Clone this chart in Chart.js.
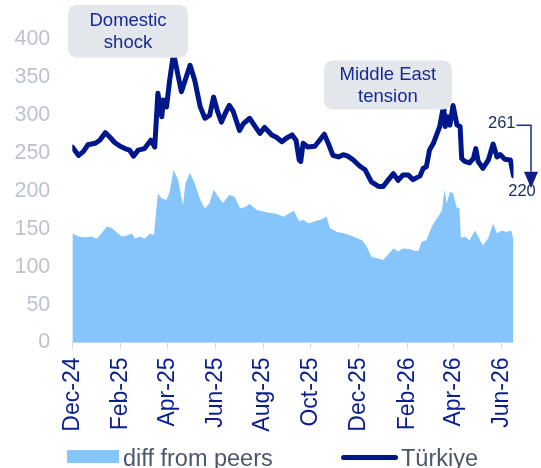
<!DOCTYPE html>
<html>
<head>
<meta charset="utf-8">
<title>Türkiye CDS</title>
<script src="https://cdn.jsdelivr.net/npm/chart.js@4.4.1/dist/chart.umd.min.js"></script>
<style>
    html, body { margin: 0; padding: 0; background: #fff; overflow: hidden; }
    #wrap { position: relative; width: 541px; height: 468px; }
    .leg { position: absolute; font-family: "Liberation Sans", Arial, Helvetica, sans-serif; font-size: 23.5px; line-height: 24px; color: #4c566d; white-space: nowrap; }
    .swatch { position: absolute; }
</style>
</head>
<body>
<div id="wrap">
    <canvas id="cds"></canvas>
    <div class="swatch" style="left:67px; top:450px; width:52px; height:13px; background:#86c5fb;"></div>
    <div class="leg" style="left:123px; top:446px;">diff from peers</div>
    <div class="swatch" style="left:341px; top:455px; width:57px; height:5px; border-radius:3px; background:#00178c;"></div>
    <div class="leg" style="left:401px; top:446px;">Türkiye</div>
</div>
<script>
// Data
const startDate = '2024-12-01';
const endDate = '2026-06-16';

const tickDates = ['2024-12-01', '2025-02-01', '2025-04-01', '2025-06-01', '2025-08-01',
    '2025-10-01', '2025-12-01', '2026-02-01', '2026-04-01', '2026-06-01'];
const tickLabels = ['Dec-24', 'Feb-25', 'Apr-25', 'Jun-25', 'Aug-25',
    'Oct-25', 'Dec-25', 'Feb-26', 'Apr-26', 'Jun-26'];

const lineDates = [
    '2024-12-01', '2024-12-09', '2024-12-15', '2024-12-21', '2024-12-30', '2025-01-05', '2025-01-12', '2025-01-18',
    '2025-01-24', '2025-01-31', '2025-02-06', '2025-02-12', '2025-02-17', '2025-02-23', '2025-03-03', '2025-03-11',
    '2025-03-16', '2025-03-20', '2025-03-25', '2025-03-27', '2025-03-31', '2025-04-04', '2025-04-09', '2025-04-15',
    '2025-04-19', '2025-04-30', '2025-05-06', '2025-05-13', '2025-05-19', '2025-05-25', '2025-05-30', '2025-06-04',
    '2025-06-09', '2025-06-14', '2025-06-19', '2025-06-24', '2025-07-02', '2025-07-07', '2025-07-15', '2025-07-22',
    '2025-07-28', '2025-08-03', '2025-08-12', '2025-08-18', '2025-08-25', '2025-08-31', '2025-09-07', '2025-09-12',
    '2025-09-16', '2025-09-18', '2025-09-21', '2025-09-27', '2025-10-06', '2025-10-12', '2025-10-18', '2025-10-23',
    '2025-10-29', '2025-11-05', '2025-11-11', '2025-11-17', '2025-11-24', '2025-12-02', '2025-12-09', '2025-12-17',
    '2025-12-26', '2026-01-01', '2026-01-07', '2026-01-14', '2026-01-20', '2026-01-26', '2026-02-02', '2026-02-08',
    '2026-02-17', '2026-02-21', '2026-02-25', '2026-03-01', '2026-03-06', '2026-03-10', '2026-03-14', '2026-03-19',
    '2026-03-21', '2026-03-24', '2026-03-27', '2026-03-31', '2026-04-05', '2026-04-09', '2026-04-11', '2026-04-15',
    '2026-04-21', '2026-04-26', '2026-04-29', '2026-05-02', '2026-05-08', '2026-05-15', '2026-05-21', '2026-05-26',
    '2026-05-30', '2026-06-05', '2026-06-12', '2026-06-16'
];
const turkiye = [
    258, 247, 252, 261, 263, 267, 277, 271,
    264, 259, 256, 254, 246, 254, 256, 267,
    258, 329, 298, 320, 311, 346, 382, 351,
    331, 366, 346, 311, 296, 300, 324, 305,
    291, 303, 313, 305, 280, 289, 296, 285,
    276, 284, 274, 271, 265, 270, 274, 267,
    241, 239, 263, 258, 259, 267, 275, 263,
    247, 245, 248, 246, 241, 233, 228, 212,
    206, 206, 214, 223, 214, 221, 221, 215,
    220, 230, 232, 254, 263, 274, 285, 313,
    285, 298, 287, 313, 287, 285, 243, 239,
    237, 243, 256, 239, 230, 241, 262, 245,
    248, 242, 241, 220
];

const diffDates = [
    '2024-12-01', '2024-12-09', '2024-12-17', '2024-12-26', '2025-01-01', '2025-01-07', '2025-01-14', '2025-01-20',
    '2025-01-26', '2025-02-02', '2025-02-08', '2025-02-15', '2025-02-19', '2025-02-25', '2025-03-03', '2025-03-10',
    '2025-03-15', '2025-03-20', '2025-03-25', '2025-03-31', '2025-04-04', '2025-04-09', '2025-04-15', '2025-04-21',
    '2025-04-24', '2025-04-30', '2025-05-06', '2025-05-13', '2025-05-19', '2025-05-25', '2025-05-30', '2025-06-05',
    '2025-06-11', '2025-06-19', '2025-06-26', '2025-07-03', '2025-07-09', '2025-07-15', '2025-07-24', '2025-08-01',
    '2025-08-10', '2025-08-18', '2025-08-27', '2025-09-04', '2025-09-09', '2025-09-16', '2025-09-21', '2025-09-28',
    '2025-10-06', '2025-10-15', '2025-10-21', '2025-10-25', '2025-11-03', '2025-11-13', '2025-11-24', '2025-12-05',
    '2025-12-11', '2025-12-17', '2025-12-26', '2026-01-01', '2026-01-07', '2026-01-14', '2026-01-20', '2026-01-26',
    '2026-02-04', '2026-02-10', '2026-02-15', '2026-02-19', '2026-02-25', '2026-03-04', '2026-03-08', '2026-03-12',
    '2026-03-17', '2026-03-20', '2026-03-23', '2026-03-27', '2026-03-31', '2026-04-05', '2026-04-08', '2026-04-10',
    '2026-04-15', '2026-04-21', '2026-04-28', '2026-05-03', '2026-05-08', '2026-05-15', '2026-05-21', '2026-05-26',
    '2026-06-01', '2026-06-07', '2026-06-13', '2026-06-16'
];
const diffPeers = [
    144, 140, 139, 140, 137, 144, 153, 151,
    146, 140, 141, 144, 137, 140, 137, 144,
    142, 197, 190, 188, 199, 228, 214, 181,
    210, 224, 210, 188, 177, 184, 202, 192,
    184, 195, 192, 177, 179, 183, 175, 173,
    171, 170, 166, 171, 174, 160, 162, 157,
    160, 163, 166, 151, 146, 144, 140, 135,
    127, 113, 111, 109, 116, 124, 120, 124,
    123, 121, 121, 133, 135, 153, 160, 166,
    175, 202, 184, 199, 197, 177, 179, 138,
    140, 135, 148, 138, 128, 138, 157, 144,
    148, 146, 148, 135
];

const lastStart = 261;
const lastEnd = 220;

// Helpers
const DAY = 86400000;
const dayOf = s => (Date.parse(s) - Date.parse(startDate)) / DAY;
const toPoints = (dates, vals) => dates.map((d, i) => ({ x: dayOf(d), y: vals[i] }));

const FONT = '"Liberation Sans", Arial, Helvetica, sans-serif';
const NAVY = '#00178c';
const LIGHT = '#86c5fb';

// Callout boxes, anchored in data units
const notes = [
    { lines: ['Domestic', 'shock'], date: '2025-02-10', value: 411, w: 120, h: 53 },
    { lines: ['Middle East', 'tension'], date: '2026-01-07', value: 340, w: 128, h: 49 }
];

const calloutPlugin = {
    id: 'callouts',
    afterDatasetsDraw(chart) {
        const ctx = chart.ctx;
        const xs = chart.scales.x, ys = chart.scales.y;
        ctx.save();
        notes.forEach(n => {
            const cx = xs.getPixelForValue(dayOf(n.date));
            const cy = ys.getPixelForValue(n.value);
            ctx.fillStyle = '#e3e6eb';
            ctx.beginPath();
            ctx.roundRect(cx - n.w / 2, cy - n.h / 2, n.w, n.h, 9);
            ctx.fill();
            ctx.fillStyle = '#152a96';
            ctx.font = '18.5px ' + FONT;
            ctx.textAlign = 'center';
            ctx.textBaseline = 'middle';
            ctx.fillText(n.lines[0], cx, cy - 10);
            ctx.fillText(n.lines[1], cx, cy + 11.5);
        });

        // 261 -> 220 arrow at the end of the line
        const meta = chart.getDatasetMeta(0);
        const last = meta.data[meta.data.length - 1];
        const px = last.x, py = last.y;
        ctx.font = '16.5px ' + FONT;
        ctx.fillStyle = '#1d2a5c';
        ctx.textBaseline = 'middle';
        ctx.textAlign = 'right';
        ctx.fillText(String(lastStart), px + 2, py - 52);
        ctx.strokeStyle = '#1b2d8c';
        ctx.lineWidth = 1.5;
        ctx.beginPath();
        ctx.moveTo(px + 3, py - 50.5);
        ctx.lineTo(px + 17.5, py - 50.5);
        ctx.lineTo(px + 17.5, py - 4);
        ctx.stroke();
        ctx.fillStyle = '#0c1f8a';
        ctx.beginPath();
        ctx.moveTo(px + 10.5, py - 4);
        ctx.lineTo(px + 24.5, py - 4);
        ctx.lineTo(px + 17.5, py + 12.5);
        ctx.closePath();
        ctx.fill();
        ctx.fillStyle = '#1d2a5c';
        ctx.textAlign = 'center';
        ctx.fillText(String(lastEnd), px + 8.5, py + 16);
        ctx.restore();
    }
};

Chart.defaults.font.family = FONT;

new Chart(document.getElementById('cds'), {
    type: 'line',
    data: {
        datasets: [
            {
                label: 'Türkiye',
                data: toPoints(lineDates, turkiye),
                borderColor: NAVY,
                backgroundColor: NAVY,
                borderWidth: 5,
                borderJoinStyle: 'round',
                borderCapStyle: 'round',
                pointRadius: 0,
                tension: 0,
                fill: false
            },
            {
                label: 'diff from peers',
                data: toPoints(diffDates, diffPeers),
                borderColor: LIGHT,
                backgroundColor: LIGHT,
                borderWidth: 0,
                pointRadius: 0,
                tension: 0,
                fill: 'origin'
            }
        ]
    },
    options: {
        responsive: true,
        maintainAspectRatio: false,
        animation: false,
        layout: { padding: { top: 39.5, right: 27.5, left: 0, bottom: 0 } },
        plugins: {
            tooltip: { enabled: false },
            legend: { display: false }
        },
        scales: {
            x: {
                type: 'linear',
                min: 0,
                max: dayOf(endDate),
                afterFit: (scale) => { scale.height = 125.5; },
                afterBuildTicks: (scale) => { scale.ticks = tickDates.map(d => ({ value: dayOf(d) })); },
                grid: { display: true, drawOnChartArea: false, drawTicks: true, tickLength: 6, color: '#d3d8de' },
                border: { display: true, color: '#d3d8de', width: 1 },
                ticks: {
                    autoSkip: false,
                    maxRotation: 90,
                    minRotation: 90,
                    padding: 9,
                    color: '#0b1f8f',
                    font: { size: 23 },
                    callback: (v, i) => tickLabels[i]
                }
            },
            y: {
                min: 0,
                max: 400,
                afterFit: (scale) => { scale.width = 72.3; },
                grid: { display: false, drawTicks: false },
                border: { display: false },
                ticks: {
                    stepSize: 50,
                    padding: 22,
                    color: '#bcc3cc',
                    font: { size: 21.5 }
                }
            }
        }
    },
    plugins: [calloutPlugin]
});
</script>
</body>
</html>
